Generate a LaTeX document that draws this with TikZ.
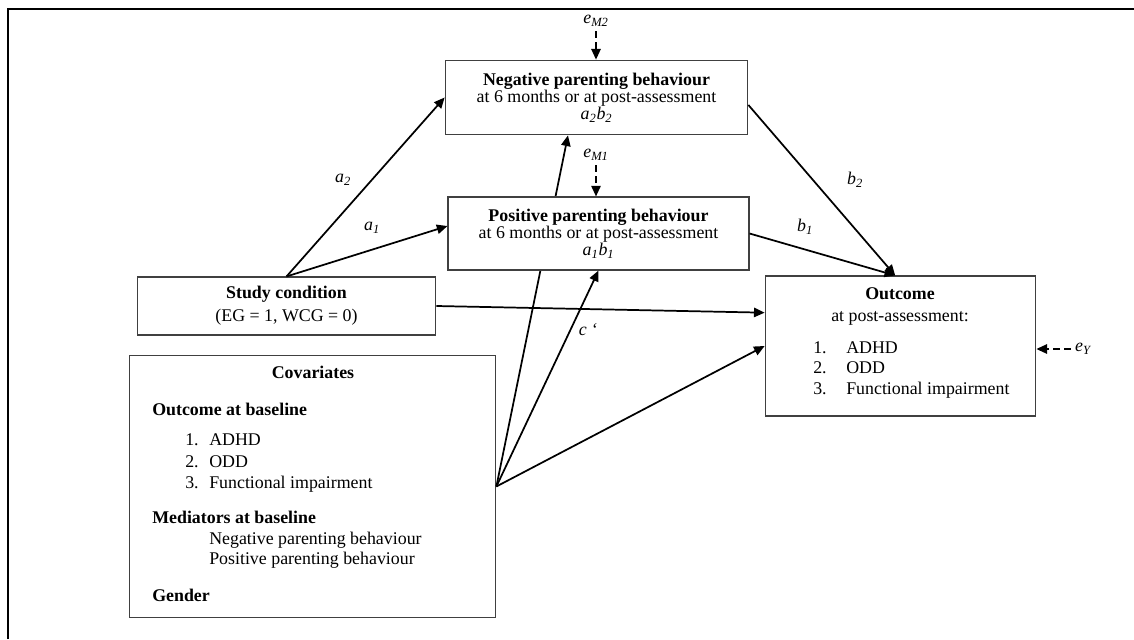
\documentclass[tikz,border=0pt]{standalone}
\usepackage{fontspec}
\setmainfont{Liberation Serif}
\usetikzlibrary{arrows.meta,positioning}

\begin{document}
\begin{tikzpicture}[x=0.75pt, y=-0.75pt, font=\fontsize{13.4}{12.8}\selectfont,
    >={Triangle[length=8pt,width=7pt]},
    box/.style={rectangle, draw=black!75, line width=0.8pt, fill=white, align=center, inner sep=0pt},
    link/.style={->, line width=1.3pt},
    errlink/.style={->, line width=1.3pt, dash pattern=on 5pt off 3pt},
    lbl/.style={font=\fontsize{13.4}{12.8}\selectfont\itshape},
    txt/.style={anchor=base west, inner sep=0pt}]
    \useasboundingbox (0,0) rectangle (1134,639);
    \draw[line width=2pt] (8,639) -- (8,9) -- (1134,9);

    \node (neg) [box, minimum width=227pt, minimum height=56pt] at (596.5,97.5) {\textbf{Negative parenting behaviour}\\ at 6 months or at post-assessment\\ \textit{a\textsubscript{2}b\textsubscript{2}}};
    \node (study) [box, minimum width=224pt, minimum height=43.5pt] at (286.5,306) {\textbf{Study condition}\\[4.5pt] (EG = 1, WCG = 0)};
    \node (cov) [box, minimum width=275pt, minimum height=197pt] at (312.5,486.5) {};
    \node (outcome) [box, minimum width=203pt, minimum height=105pt] at (900.5,346) {};

    % covariates -> negative, hidden behind the positive box
    \draw[link] (cov.east) -- ([xshift=-21.4pt]neg.south);

    \node (pos) [box, minimum width=225.75pt, minimum height=54.75pt] at (598.5,233.5) {\textbf{Positive parenting behaviour}\\ at 6 months or at post-assessment\\ \textit{a\textsubscript{1}b\textsubscript{1}}};

    % covariates text
    \node (covtitle) [anchor=base, inner sep=0pt] at (313,378) {\textbf{Covariates}};
    \node (covout) [txt] at (152,415) {\textbf{Outcome at baseline}};
    \node (covnum1) [txt] at (185,445) {1.};
    \node (covadhd) [txt] at (209,445) {ADHD};
    \node (covnum2) [txt] at (185,467) {2.};
    \node (covodd) [txt] at (209,467) {ODD};
    \node (covnum3) [txt] at (185,488) {3.};
    \node (covfunc) [txt] at (209,488) {Functional impairment};
    \node (covmed) [txt] at (152,523) {\textbf{Mediators at baseline}};
    \node (covneg) [txt] at (209,544) {Negative parenting behaviour};
    \node (covpos) [txt] at (209,564) {Positive parenting behaviour};
    \node (covgender) [txt] at (152,601) {\textbf{Gender}};

    % outcome text
    \node (outtitle) [anchor=base, inner sep=0pt] at (900,299) {\textbf{Outcome}};
    \node (outpost) [anchor=base, inner sep=0pt] at (900,321) {at post-assessment:};
    \node (outnum1) [txt] at (813,353) {1.};
    \node (outadhd) [txt] at (846,353) {ADHD};
    \node (outnum2) [txt] at (813,373) {2.};
    \node (outodd) [txt] at (846,373) {ODD};
    \node (outnum3) [txt] at (813,394) {3.};
    \node (outfunc) [txt] at (846,394) {Functional impairment};

    % paths
    \draw[link] (study.north) -- (neg.west);
    \draw[link] (study.north) -- ([yshift=5.6pt]pos.west);
    \draw[link] ([yshift=-5.6pt]neg.east) -- ([xshift=-4pt]outcome.north);
    \draw[link] (pos.east) -- ([xshift=-4pt]outcome.north);
    \draw[link] (study.east) -- ([yshift=25pt]outcome.west);
    \draw[link] (cov.east) -- (pos.south);
    \draw[link] (cov.east) -- (outcome.west);

    % path labels
    \node (la2) [lbl] at (343,180) {a\textsubscript{2}};
    \node (la1) [lbl] at (372,228) {a\textsubscript{1}};
    \node (lb2) [lbl] at (855,180) {b\textsubscript{2}};
    \node (lb1) [lbl] at (805,227) {b\textsubscript{1}};
    \node (lc) [lbl] at (588,330) {c ‘};

    % error terms
    \node (eM2) [lbl] at (596,21) {e\textsubscript{M2}};
    \draw[errlink] (eM2) -- (eM2 |- neg.north);
    \node (eM1) [lbl] at (596,155) {e\textsubscript{M1}};
    \draw[errlink] (eM1) -- (eM1 |- pos.north);
    \node (eY) [lbl] at (1083,349) {e\textsubscript{Y}};
    \draw[errlink] (eY) -- (eY -| outcome.east);
\end{tikzpicture}
\end{document}
